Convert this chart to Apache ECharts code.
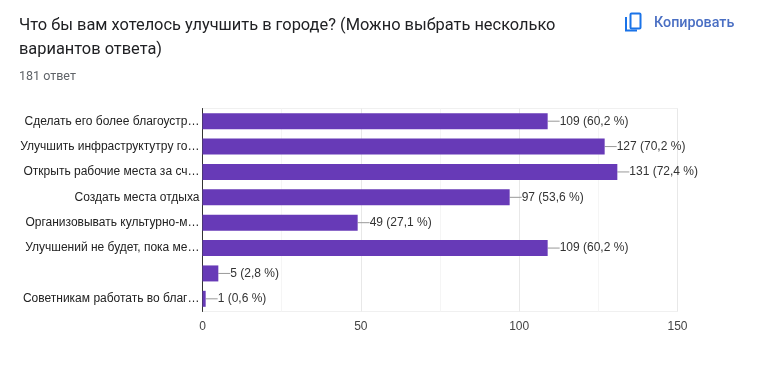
<!DOCTYPE html>
<html>
<head>
<meta charset="utf-8">
<style>
  html, body { margin: 0; padding: 0; background: #fff; }
  #chart { width: 757px; height: 367px; }
</style>
<script src="https://cdn.jsdelivr.net/npm/echarts@6/dist/echarts.min.js"></script>
</head>
<body>
<div id="chart"></div>
<script>
var categories = [
  "Сделать его более благоустр…",
  "Улучшить инфраструктутру го…",
  "Открыть рабочие места за сч…",
  "Создать места отдыха",
  "Организовывать культурно-м…",
  "Улучшений не будет, пока ме…",
  "",
  "Советникам работать во благ…"
];
var counts = [109, 127, 131, 97, 49, 109, 5, 1];
var percents = ["60,2", "70,2", "72,4", "53,6", "27,1", "60,2", "2,8", "0,6"];
var xTicks = [0, 50, 100, 150];

var myChart = echarts.init(document.getElementById("chart"));
var option = {
  backgroundColor: "#fff",
  animation: false,
  textStyle: { fontFamily: "Liberation Sans" },
  grid: {
    left: 202.5,
    top: 108.5,
    width: 475,
    height: 203,
    show: true,
    backgroundColor: "transparent",
    borderColor: "#f0f0f0",
    borderWidth: 1
  },
  xAxis: {
    type: "value",
    min: xTicks[0],
    max: xTicks[3],
    interval: 50,
    axisLine: { show: false },
    axisTick: { show: false },
    axisLabel: {
      color: "#444",
      fontSize: 12,
      margin: 9,
      fontFamily: "Liberation Sans"
    },
    splitLine: { show: true, lineStyle: { color: "#e8e8e8", width: 1 } },
    minorTick: { show: false, splitNumber: 2 },
    minorSplitLine: { show: true, lineStyle: { color: "#f5f5f5", width: 1 } }
  },
  yAxis: {
    type: "category",
    inverse: true,
    data: categories,
    axisLine: { show: true, lineStyle: { color: "#333", width: 1 } },
    axisTick: { show: false },
    splitLine: { show: false },
    axisLabel: {
      color: "#222",
      fontSize: 12,
      margin: 3,
      interval: 0,
      fontFamily: "Liberation Sans"
    }
  },
  series: [
    {
      type: "bar",
      data: counts,
      barWidth: 16,
      itemStyle: { color: "#673ab7" },
      label: {
        show: true,
        position: "right",
        distance: 0,
        color: "#333",
        fontSize: 12,
        fontFamily: "Liberation Sans",
        formatter: function (p) {
          return p.value + " (" + percents[p.dataIndex] + " %)";
        }
      },
      labelLayout: { dx: 12 },
      labelLine: {
        show: true,
        lineStyle: { color: "#999", width: 1 }
      }
    }
  ],
  graphic: [
    {
      type: "text",
      left: 19,
      top: 14,
      style: {
        text: "Что бы вам хотелось улучшить в городе? (Можно выбрать несколько\nвариантов ответа)",
        fill: "#202124",
        font: "16.4px Roboto",
        lineHeight: 24
      }
    },
    {
      type: "text",
      left: 19,
      top: 70,
      style: { text: "181 ответ", fill: "#5f6368", font: "12.5px Roboto" }
    },
    {
      type: "text",
      left: 654,
      top: 16,
      style: { text: "Копировать", fill: "#4a6fc3", font: "500 14.3px Roboto" }
    },
    // значок копирования
    {
      type: "rect",
      shape: { x: 630.5, y: 13.5, width: 10, height: 15, r: 1 },
      style: { fill: "none", stroke: "#1a73e8", lineWidth: 2 }
    },
    {
      type: "polyline",
      shape: { points: [[626, 17], [626, 30.5], [637, 30.5]] },
      style: { fill: "none", stroke: "#1a73e8", lineWidth: 2 }
    }
  ]
};
myChart.setOption(option);
window.addEventListener("resize", function () {
  myChart.resize();
});
</script>
</body>
</html>
